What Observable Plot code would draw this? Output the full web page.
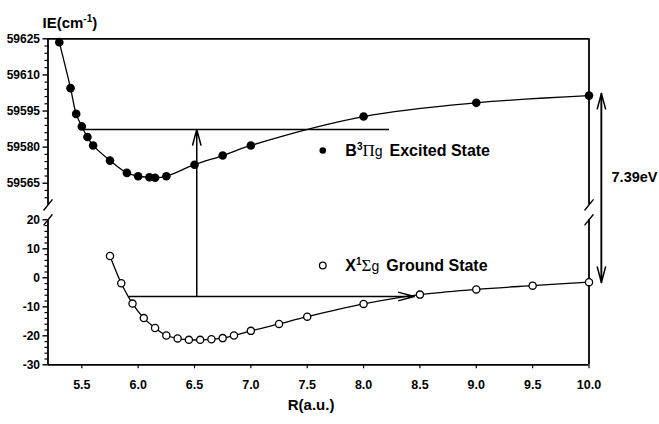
<!DOCTYPE html>
<html><head><meta charset="utf-8">
<script src="https://cdn.jsdelivr.net/npm/d3@7"></script>
<script src="https://cdn.jsdelivr.net/npm/@observablehq/plot@0.6"></script>
<style>
body{margin:0;background:#fff}
#chart{width:659px;height:424px}
</style></head><body><div id="chart"></div>
<script>
// Excited state B3Πg (filled circles), IE in cm-1
const excitedR  = [5.3, 5.4, 5.45, 5.5, 5.55, 5.6, 5.75, 5.9, 6.0, 6.1, 6.15, 6.25, 6.5, 6.75, 7.0, 8.0, 9.0, 10.0];
const excitedIE = [59623.6, 59604.5, 59593.8, 59588.6, 59584.2, 59580.7, 59574.4, 59569.3, 59567.9, 59567.5, 59567.3, 59567.9, 59572.7, 59576.5, 59580.7, 59592.7, 59598.4, 59601.4];
// Ground state X1Σg (open circles)
const groundR  = [5.75, 5.85, 5.95, 6.05, 6.15, 6.25, 6.35, 6.45, 6.55, 6.65, 6.75, 6.85, 7.0, 7.25, 7.5, 8.0, 8.5, 9.0, 9.5, 10.0];
const groundIE = [7.5, -1.9, -8.9, -13.9, -17.3, -19.9, -20.9, -21.4, -21.4, -21.2, -20.8, -19.9, -18.3, -15.9, -13.4, -9.0, -5.8, -4.0, -2.7, -1.5];
// Tick labels
const xTicks = [5.5, 6.0, 6.5, 7.0, 7.5, 8.0, 8.5, 9.0, 9.5, 10.0];
const yTicksTop = [59565, 59580, 59595, 59610, 59625];
const yTicksBottom = [-30, -20, -10, 0, 10, 20];
const yMinorTop = [59559, 59562, 59568, 59571, 59574, 59577, 59583, 59586, 59589, 59592, 59598, 59601, 59604, 59607, 59613, 59616, 59619, 59622];
const yMinorBottom = [-28, -26, -24, -22, -18, -16, -14, -12, -8, -6, -4, -2, 2, 4, 6, 8, 12, 14, 16, 18];
// Annotation arrows (data coordinates)
const transitionR = 6.52, groundLevel = -6.45, excitedLevel = 59587.3;
const gapR = 10.11, gapTop = 59602.3, gapBottom = -1.6;

const excited = excitedR.map((r, i) => ({r, ie: excitedIE[i]}));
const ground = groundR.map((r, i) => ({r, ie: groundIE[i]}));

const xMin = 5.2, xMax = 10, topLow = 59556, topHigh = 59625, botLow = -30, botHigh = 20;

const arrows = [
  {x1: transitionR, y1: groundLevel, x2: transitionR, y2: excitedLevel},
  {x1: 5.92, y1: groundLevel, x2: 8.45, y2: groundLevel},
  {x1: gapR, y1: gapBottom, x2: gapR, y2: gapTop},
  {x1: gapR, y1: gapTop, x2: gapR, y2: gapBottom}
];
const breaks = [
  {x: xMin, y: topLow}, {x: xMin, y: botHigh}, {x: xMax, y: topLow}, {x: xMax, y: botHigh}
];
const slash = {draw(context, l) { context.moveTo(0, 0); context.lineTo(0, -l); }};

const plot = Plot.plot({
  width: 659, height: 424,
  marginLeft: 47.5, marginRight: 70.5, marginTop: 38.3, marginBottom: 59.7,
  style: {fontFamily: "'Liberation Sans', Arial, sans-serif", fontSize: "12px", background: "#fff", color: "#000"},
  x: {type: "linear", domain: [xMin, xMax], range: [47.5, 588.5]},
  y: {type: "linear", domain: [botLow, botHigh, topLow, topHigh], range: [364.3, 219.3, 204.4, 38.3]},
  marks: [
    // frame
    Plot.ruleY([topHigh, botLow], {x1: xMin, x2: xMax, strokeWidth: 1.8}),
    Plot.ruleX([xMin, xMax], {y1: topLow, y2: topHigh, strokeWidth: 1.8}),
    Plot.ruleX([xMin, xMax], {y1: botLow, y2: botHigh, strokeWidth: 1.8}),
    Plot.vector(breaks, {x: "x", y: "y", length: 13, rotate: 39, anchor: "middle", shape: slash, stroke: "#000", strokeWidth: 1.4}),
    // axes
    Plot.axisY({ticks: yTicksTop, tickSize: 5, tickPadding: 3, tickFormat: d => String(d), fontWeight: "bold", fontSize: 12, strokeWidth: 1.4, label: null}),
    Plot.axisY({ticks: yTicksBottom, tickSize: 5, tickPadding: 3, tickFormat: d => String(d), fontWeight: "bold", fontSize: 12, strokeWidth: 1.4, label: null}),
    Plot.axisY({ticks: yMinorTop, tickSize: 3, text: null, strokeWidth: 1.2, label: null}),
    Plot.axisY({ticks: yMinorBottom, tickSize: 3, text: null, strokeWidth: 1.2, label: null}),
    Plot.axisX({ticks: xTicks, tickSize: 4, tickPadding: 11, tickFormat: d3.format(".1f"), fontWeight: "bold", fontSize: 12.5, fontFamily: "'Liberation Sans Narrow', 'Arial Narrow', 'Liberation Sans', sans-serif", strokeWidth: 1.2, label: null}),
    // level lines and arrows
    Plot.ruleY([excitedLevel], {x1: 5.51, x2: 8.23, strokeWidth: 1.5}),
    Plot.arrow(arrows, {x1: "x1", y1: "y1", x2: "x2", y2: "y2", headAngle: 30, headLength: 16, strokeWidth: 1.5, stroke: "#000"}),
    // curves
    Plot.line(excited, {x: "r", y: "ie", curve: "catmull-rom", strokeWidth: 1.3, stroke: "#000"}),
    Plot.line(ground, {x: "r", y: "ie", curve: "catmull-rom", strokeWidth: 1.3, stroke: "#000"}),
    Plot.dot(excited, {x: "r", y: "ie", r: 4.3, fill: "#000"}),
    Plot.dot(ground, {x: "r", y: "ie", r: 3.6, fill: "#fff", stroke: "#000", strokeWidth: 1.3}),
    // legend
    Plot.dot([{x: 7.638, y: 59578.6}], {x: "x", y: "y", r: 3.3, fill: "#000"}),
    Plot.dot([{x: 7.638, y: 4.24}], {x: "x", y: "y", r: 3.3, fill: "#fff", stroke: "#000", strokeWidth: 1.3}),
    Plot.text(["B3Πg Excited State"], {x: 7.838, y: 59578.6, text: d => d, textAnchor: "start", lineAnchor: "middle", fontWeight: "bold", fontSize: 16}),
    Plot.text(["X1Σg Ground State"], {x: 7.838, y: 4.24, text: d => d, textAnchor: "start", lineAnchor: "middle", fontWeight: "bold", fontSize: 16}),
    // labels
    Plot.text(["7.39eV"], {x: 10.2, y: 59567.5, text: d => d, textAnchor: "start", lineAnchor: "middle", fontWeight: "bold", fontSize: 14.5}),
    Plot.text(["R(a.u.)"], {x: 7.534, frameAnchor: "bottom", dy: 40, text: d => d, lineAnchor: "middle", fontWeight: "bold", fontSize: 15}),
    Plot.text(["IE(cm-1)"], {frameAnchor: "top-left", dx: -5.5, dy: -15.7, text: d => d, textAnchor: "start", lineAnchor: "middle", fontWeight: "bold", fontSize: 15})
  ]
});
document.getElementById("chart").appendChild(plot);

// rich text (super/subscripts) for labels
const rich = {
  "B3Πg Excited State": [["B", {}], ["3", {"font-size": 10, dy: -6}], ["Π", {"font-family": "'Liberation Serif', serif", "font-weight": "normal", "font-size": 17, dy: 6}], ["g", {"font-weight": "normal", "font-size": 14}], ["Excited State", {dx: 7}]],
  "X1Σg Ground State": [["X", {}], ["1", {"font-size": 10, dy: -6}], ["Σ", {"font-family": "'Liberation Serif', serif", "font-weight": "normal", "font-size": 17, dy: 6}], ["g", {"font-weight": "normal", "font-size": 14}], ["Ground State", {dx: 7}]],
  "IE(cm-1)": [["IE(cm", {}], ["-1", {"font-size": 10, dy: -6}], [")", {dy: 6}]]
};
d3.select(plot).selectAll("text").each(function() {
  const t = this.textContent;
  if (rich[t]) {
    const sel = d3.select(this);
    sel.text(null);
    for (const [s, attrs] of rich[t]) {
      const ts = sel.append("tspan").text(s);
      for (const k in attrs) ts.attr(k, attrs[k]);
    }
  }
});
</script></body></html>
